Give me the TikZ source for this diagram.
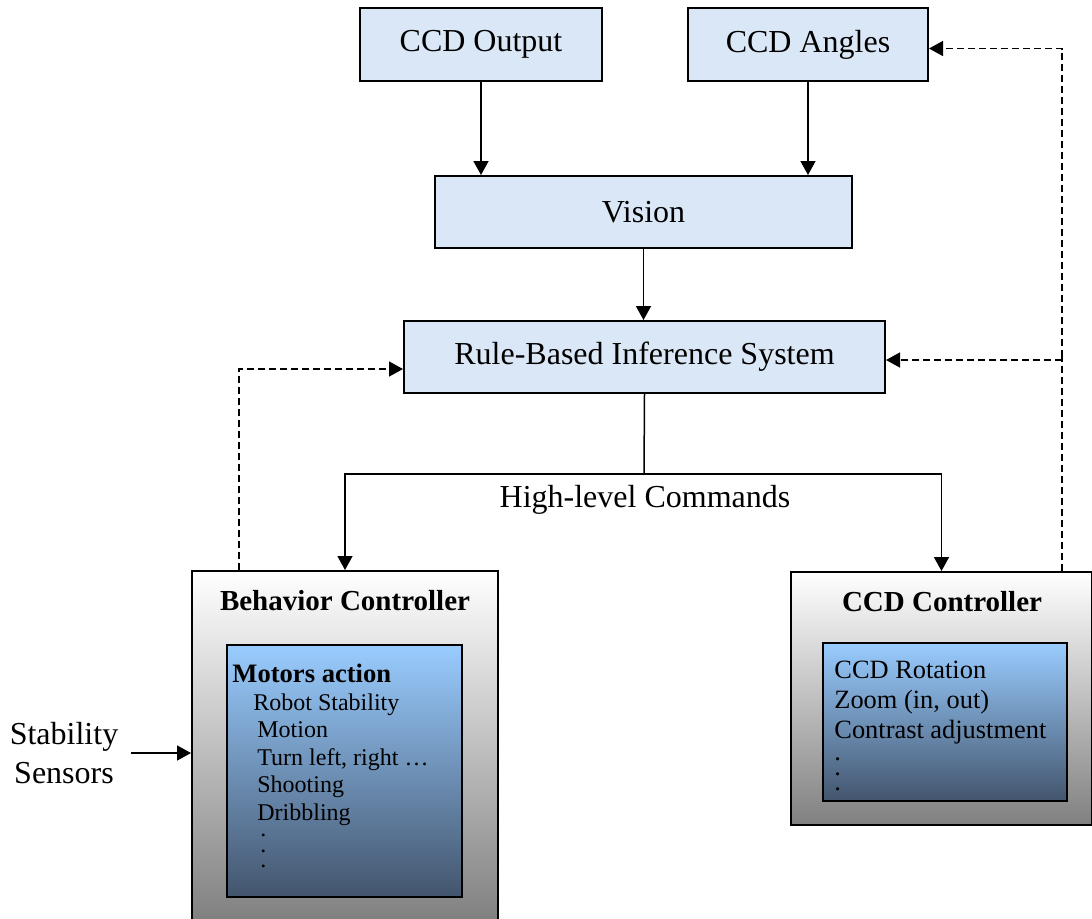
\documentclass[tikz,border=0pt]{standalone}
\usepackage{fontspec}
\setmainfont{Liberation Serif}
\usetikzlibrary{arrows.meta}

\definecolor{paleblue}{HTML}{DAE7F6}
\definecolor{ctrlgray}{HTML}{808080}
\definecolor{listtop}{HTML}{99CCFF}
\definecolor{listbottom}{HTML}{43556D}
\newcommand{\mainsize}{\fontsize{16}{19}\selectfont}
\newcommand{\titlesize}{\fontsize{14.5}{17}\selectfont}
\newcommand{\listsize}{\fontsize{12}{13.75}\selectfont}

\begin{document}
\begin{tikzpicture}[
    x=0.5pt, y=-0.5pt,
    base/.style = {rectangle, draw=black, line width=1pt, inner sep=0pt,
text centered, font=\mainsize},
    module/.style = {base, fill=paleblue, minimum height=36.5pt},
    ctrlbox/.style = {base, top color=white, bottom color=ctrlgray},
    listbox/.style = {base, top color=listtop, bottom color=listbottom},
    arrow/.style = {line width=0.75pt, -{Triangle[length=7pt, width=7.5pt]}},
    feedback/.style = {arrow, dash pattern=on 3.5pt off 2pt}
]
  \useasboundingbox (0,0) rectangle (1092,918);

  % top row and middle
  \node (ccdout) [module, minimum width=121pt] at (481,44.5) {CCD Output};
  \node (ccdang) [module, minimum width=120pt] at (808,44.5) {CCD Angles};
  \node (vision) [module, minimum width=208.5pt, minimum height=36pt] at (643.5,212) {Vision};
  \node (rule)   [module, minimum width=240.5pt, minimum height=36pt] at (644.5,357) {Rule-Based Inference System};

  % controllers
  \node (beh)    [ctrlbox, minimum width=153pt, minimum height=175pt] at (345,746) {};
  \node (behttl) [font=\titlesize\bfseries] at (345,601) {Behavior Controller};
  \node (behlist) [listbox, minimum width=117.5pt, minimum height=126pt] at (344.5,771) {};
  \node (behtxt) [anchor=north west, align=left, inner sep=0pt, font=\listsize] at (232,664)
    {\textbf{\fontsize{13.3}{13.75}\selectfont Motors action}\\
     \hspace*{10.5pt}Robot Stability\\
     \hspace*{12.5pt}Motion\\
     \hspace*{12.5pt}Turn left, right \dots\\
     \hspace*{12.5pt}Shooting\\
     \hspace*{12.5pt}Dribbling\\[-5.5pt]
     \hspace*{14pt}.\\[-6pt]
     \hspace*{14pt}.\\[-6pt]
     \hspace*{14pt}.};

  \node (ccdctl) [ctrlbox, minimum width=150.5pt, minimum height=126.5pt] at (941.5,698.5) {};
  \node (ctlttl) [font=\titlesize\bfseries] at (942,602) {CCD Controller};
  \node (ccdlist) [listbox, minimum width=122pt, minimum height=79pt] at (945,722) {};
  \node (ccdtxt) [anchor=north west, align=left, inner sep=0pt, font=\fontsize{13.2}{15}\selectfont] at (834,661)
    {CCD Rotation\\
     Zoom (in, out)\\
     Contrast adjustment\\[-4pt]
     .\\[-7.5pt]
     .\\[-7.5pt]
     .};

  \node (sens) [align=center, font=\fontsize{16}{19.5}\selectfont] at (64,753) {Stability\\Sensors};
  \node (cmd)  [font=\mainsize] at (645,500) {High-level Commands};
  \coordinate (split) at (644,474);

  % solid arrows
  \draw[arrow] (ccdout.south) -- (ccdout.south |- vision.north);
  \draw[arrow] (ccdang.south) -- (ccdang.south |- vision.north);
  \draw[arrow] (vision.south) -- (vision.south |- rule.north);
  \draw[line width=0.75pt] (rule.south) -- (split);
  \draw[arrow] (split) -| (beh.north);
  \draw[arrow] (split) -| (ccdctl.north);
  \draw[arrow] ([xshift=3pt]sens.east) -- (sens.east -| beh.west);

  % dashed feedback
  \draw[feedback] ([xshift=24pt]beh.north west) |- ([yshift=-6pt]rule.west);
  \coordinate (fbx) at ([xshift=-15.5pt]ccdctl.north east);
  \coordinate (fbmid) at (fbx |- rule.east);
  \draw[feedback, -] (fbx) -- (fbmid);
  \draw[feedback] (fbmid) |- ([yshift=-2pt]ccdang.east);
  \draw[feedback] ([yshift=-1.5pt]fbmid) -- ([yshift=-1.5pt]rule.east);

\end{tikzpicture}
\end{document}
